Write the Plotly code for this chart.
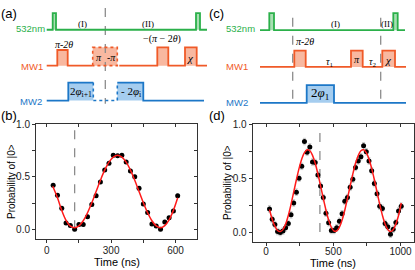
import plotly.graph_objects as go

W, H = 415, 270

# ---------------- data: panel (b) ----------------
b_time = [30, 50, 70, 90, 110, 130, 150, 170, 190, 210, 230, 250, 270, 290, 310,
          330, 350, 370, 390, 410, 430, 450, 470, 490, 510, 530, 550, 570, 590, 610]
b_prob = [0.42, 0.325, 0.20, 0.06, 0.035, 0.0, 0.045, 0.045, 0.12, 0.235, 0.32, 0.45, 0.565, 0.63, 0.705,
          0.70, 0.705, 0.64, 0.555, 0.50, 0.39, 0.24, 0.16, 0.05, 0.03, 0.0, 0.07, 0.11, 0.175, 0.32]
b_fit_time = [28, 50, 70, 90, 110, 130, 150, 170, 190, 210, 230, 250, 270, 290, 310,
              330, 350, 370, 390, 410, 430, 450, 470, 490, 510, 530, 550, 570, 590, 610]
b_fit_prob = [0.41, 0.30, 0.18, 0.085, 0.03, 0.015, 0.032, 0.081, 0.157, 0.253, 0.36, 0.467, 0.563, 0.639, 0.688,
              0.705, 0.688, 0.639, 0.563, 0.467, 0.36, 0.253, 0.157, 0.081, 0.032, 0.015, 0.035, 0.09, 0.18, 0.30]
b_marker_time = [130, 130]
b_marker_prob = [0.0, 1.0]

# ---------------- data: panel (d) ----------------
d_time = [25, 45, 65, 85, 105, 125, 145, 165, 185, 205, 225, 245, 265, 285, 305, 325, 345, 365, 385, 405,
          425, 445, 465, 485, 505, 525, 545, 565, 585, 605, 625, 645, 665, 685, 705, 725, 745, 765, 785, 805,
          825, 845, 865, 885, 905, 925, 945, 965, 985, 1005]
d_prob = [0.215, 0.118, 0.07, 0.005, -0.004, 0.01, 0.04, 0.08, 0.16, 0.27, 0.37, 0.50, 0.61, 0.84, 0.74,
          0.79, 0.65, 0.645, 0.53, 0.427, 0.32, 0.175, 0.087, 0.015, 0.015, 0.04, 0.10, 0.17, 0.285, 0.32,
          0.415, 0.49, 0.60, 0.66, 0.70, 0.80, 0.745, 0.66, 0.57, 0.45, 0.355, 0.24, 0.22, 0.08, 0.05,
          -0.02, 0.027, 0.088, 0.195, 0.24]
d_err = 0.03
d_fit_time = d_time
d_fit_prob = [0.21, 0.12, 0.055, 0.015, 0.005, 0.023, 0.074, 0.155, 0.257, 0.371, 0.486, 0.591, 0.678, 0.737,
              0.764, 0.755, 0.712, 0.638, 0.540, 0.429, 0.312, 0.204, 0.111, 0.045, 0.010, 0.012, 0.045, 0.111,
              0.203, 0.312, 0.428, 0.540, 0.638, 0.711, 0.755, 0.764, 0.738, 0.678, 0.591, 0.486, 0.371, 0.257,
              0.155, 0.075, 0.023, 0.005, 0.022, 0.074, 0.154, 0.27]
d_marker_time = [400, 400]
d_marker_prob = [0.0, 0.95]

# ticks
b_xticks = [0, 300, 600]
b_xminor = [150, 450]
d_xticks = [0, 500, 1000]
d_xminor = [250, 750]
p_ticks = [0, 0.5, 1.0]
p_labels = ["0.0", "0.5", "1.0"]
p_minor = [0.25, 0.75]

# ---------------- pulse sequences (schematic timeline units) ----------------
# panel (a)
a_span = (46.7, 207.0)
a_laser_base = 24.3
a_laser = [(52.7, 56.0, 7.3), (196.0, 200.0, 7.3)]
a_mw1_base = 61.0
a_mw1_pre = [(57.3, 67.7, 45.0)]
a_mw1_opt = (92.7, 117.3, 42.3)
a_mw1_post = [(157.3, 168.3, 42.3), (185.0, 196.7, 42.3)]
a_mw2_base = 96.7
a_mw2 = [(68.3, 93.3, 78.3), (117.3, 143.3, 78.3)]
a_cut = [105.3]
# panel (c)
c_span = (260.0, 406.0)
c_laser_base = 24.7
c_laser = [(269.3, 274.0, 7.3), (393.3, 397.7, 7.3)]
c_mw1_base = 62.3
c_mw1 = [(294.3, 305.7, 45.7), (351.0, 362.7, 45.7), (382.3, 395.0, 45.7)]
c_mw2_base = 99.0
c_mw2 = [(306.7, 334.0, 81.0)]
c_cut = [292.7, 380.7]

GREEN, GREEN_F = "#2bb04a", "#a8dfb2"
ORANGE, ORANGE_F = "#f05a28", "#f8b8a0"
BLUE, BLUE_F = "#1c77c7", "#a5cdef"
SANS = "Liberation Sans, Arial, sans-serif"
SERIF = "Liberation Serif, Times New Roman, serif"

fig = go.Figure()

SX, SY = "x5", "y5"


def fill_rect(x0, x1, yb, yt, color):
    fig.add_trace(go.Scatter(x=[x0, x0, x1, x1, x0], y=[yb, yt, yt, yb, yb], mode="lines",
                             fill="toself", fillcolor=color, line=dict(width=0),
                             xaxis=SX, yaxis=SY, hoverinfo="skip", showlegend=False))


def path(xs, ys, color, dash="solid", width=1.8):
    fig.add_trace(go.Scatter(x=xs, y=ys, mode="lines", line=dict(color=color, width=width, dash=dash),
                             xaxis=SX, yaxis=SY, hoverinfo="skip", showlegend=False))


def wave(x_start, x_end, base, pulses, color):
    xs, ys = [x_start], [base]
    for p0, p1, top in pulses:
        xs += [p0, p0, p1, p1]
        ys += [base, top, top, base]
    xs.append(x_end)
    ys.append(base)
    path(xs, ys, color)


# fills
for p0, p1, t in a_laser:
    fill_rect(p0, p1, a_laser_base, t, GREEN_F)
for p0, p1, t in a_mw1_pre + [a_mw1_opt] + a_mw1_post:
    fill_rect(p0, p1, a_mw1_base, t, ORANGE_F)
for p0, p1, t in a_mw2:
    fill_rect(p0, p1, a_mw2_base, t, BLUE_F)
for p0, p1, t in c_laser:
    fill_rect(p0, p1, c_laser_base, t, GREEN_F)
for p0, p1, t in c_mw1:
    fill_rect(p0, p1, c_mw1_base, t, ORANGE_F)
for p0, p1, t in c_mw2:
    fill_rect(p0, p1, c_mw2_base, t, BLUE_F)

# dashed cut lines in schematics
for xc in a_cut:
    path([xc, xc], [2, 100], "#8c8c8c", dash="dash", width=1.3)
for xc in c_cut:
    path([xc, xc], [12, 101], "#8c8c8c", dash="dash", width=1.3)

# (a) waveforms
wave(a_span[0], a_span[1], a_laser_base, a_laser, GREEN)
wave(a_span[0], a_mw1_opt[0], a_mw1_base, a_mw1_pre, ORANGE)
o0, o1, ot = a_mw1_opt
path([o0, o0, o1, o1, o0], [a_mw1_base, ot, ot, a_mw1_base, a_mw1_base], ORANGE, dash="dot", width=1.6)
wave(o1 + 2, a_span[1], a_mw1_base, a_mw1_post, ORANGE)
(m0, m1, mt), (n0, n1, nt) = a_mw2
path([a_span[0], m0, m0, m1], [a_mw2_base, a_mw2_base, mt, mt], BLUE)
path([m1, m1, n0, n0], [mt, a_mw2_base, a_mw2_base, nt], BLUE, dash="dot", width=1.6)
path([n0, n1, n1, a_span[1] - 3], [nt, nt, a_mw2_base, a_mw2_base], BLUE)

# (c) waveforms
wave(c_span[0], c_span[1] - 1, c_laser_base, c_laser, GREEN)
wave(c_span[0], c_span[1], c_mw1_base, c_mw1, ORANGE)
wave(c_span[0], c_span[1], c_mw2_base, c_mw2, BLUE)

# ---------------- data panels ----------------
fig.add_trace(go.Scatter(x=b_marker_time, y=b_marker_prob, mode="lines",
                         line=dict(color="#8c8c8c", width=1.3, dash="dash"), xaxis="x", yaxis="y",
                         showlegend=False))
fig.add_trace(go.Scatter(x=b_time, y=b_prob, mode="markers",
                         marker=dict(color="black", size=5),
                         error_y=dict(type="constant", value=0.015, color="#c8c8c8", thickness=1, width=1.5),
                         xaxis="x", yaxis="y", showlegend=False))
fig.add_trace(go.Scatter(x=b_fit_time, y=b_fit_prob, mode="lines", line=dict(color="#ff1a1a", width=1.5, shape="spline"),
                         xaxis="x", yaxis="y", showlegend=False))

fig.add_trace(go.Scatter(x=d_marker_time, y=d_marker_prob, mode="lines",
                         line=dict(color="#8c8c8c", width=1.3, dash="dash"), xaxis="x3", yaxis="y3",
                         showlegend=False))
fig.add_trace(go.Scatter(x=d_time, y=d_prob, mode="markers",
                         marker=dict(color="black", size=5),
                         error_y=dict(type="constant", value=d_err, color="#c8c8c8", thickness=1, width=1.5),
                         xaxis="x3", yaxis="y3", showlegend=False))
fig.add_trace(go.Scatter(x=d_fit_time, y=d_fit_prob, mode="lines", line=dict(color="#ff1a1a", width=1.5, shape="spline"),
                         xaxis="x3", yaxis="y3", showlegend=False))


def px(x):
    return x / W


def py(y):
    return 1 - y / H


AX = "#333333"
tickfont = dict(family=SANS, size=10, color="#222")
b_dom_x = [px(36), px(197)]
b_dom_y = [py(238), py(121)]
d_dom_x = [px(252.7), px(414)]
d_dom_y = [py(241.7), py(121)]
b_xr = [-50, 700]
d_xr = [-100, 1100]
b_yr = [-0.09, 1.0]
d_yr = [-0.095, 1.0]

common = dict(showgrid=False, zeroline=False, linecolor=AX, linewidth=1, tickcolor=AX, ticklen=3, tickwidth=1)


def minor(vals, side):
    return dict(tickvals=vals, ticks=side, ticklen=3, tickcolor=AX, tickwidth=1, showgrid=False)


fig.update_layout(
    width=W, height=H, margin=dict(l=0, r=0, t=0, b=0),
    paper_bgcolor="white", plot_bgcolor="rgba(0,0,0,0)", showlegend=False,
    xaxis=dict(domain=b_dom_x, range=b_xr, anchor="y", tickvals=b_xticks, ticktext=[str(v) for v in b_xticks],
               ticks="outside", showline=True, tickfont=tickfont, ticklabelstandoff=-1,
               minor=minor(b_xminor, "outside"), **common),
    yaxis=dict(domain=b_dom_y, range=b_yr, anchor="x", tickvals=p_ticks, ticktext=p_labels,
               ticks="outside", showline=True, tickfont=tickfont, minor=minor(p_minor, "outside"), **common),
    xaxis2=dict(overlaying="x", side="top", anchor="y", range=b_xr, tickvals=b_xticks, ticks="inside",
                showticklabels=False, showline=True, minor=minor(b_xminor, "inside"), **common),
    yaxis2=dict(overlaying="y", side="right", anchor="x", range=b_yr, tickvals=p_ticks, ticks="inside",
                showticklabels=False, showline=True, minor=minor(p_minor, "inside"), **common),
    xaxis3=dict(domain=d_dom_x, range=d_xr, anchor="y3", tickvals=d_xticks, ticktext=[str(v) for v in d_xticks],
                ticks="outside", showline=True, tickfont=tickfont, ticklabelstandoff=-3,
                minor=minor(d_xminor, "outside"), **common),
    yaxis3=dict(domain=d_dom_y, range=d_yr, anchor="x3", tickvals=p_ticks, ticktext=p_labels,
                ticks="outside", showline=True, tickfont=tickfont, minor=minor(p_minor, "outside"), **common),
    xaxis4=dict(overlaying="x3", side="top", anchor="y3", range=d_xr, tickvals=d_xticks, ticks="inside",
                showticklabels=False, showline=True, minor=minor(d_xminor, "inside"), **common),
    yaxis4=dict(overlaying="y3", side="right", anchor="x3", range=d_yr, tickvals=p_ticks, ticks="inside",
                showticklabels=False, showline=True, minor=minor(p_minor, "inside"), **common),
    xaxis5=dict(domain=[0, 1], range=[0, W], visible=False, fixedrange=True),
    yaxis5=dict(domain=[py(105), 1], range=[105, 0], visible=False, fixedrange=True),
)

# dummy traces so overlay axes render
fig.add_trace(go.Scatter(x=[None], y=[None], xaxis="x2", yaxis="y2", showlegend=False))
fig.add_trace(go.Scatter(x=[None], y=[None], xaxis="x4", yaxis="y4", showlegend=False))

ann = []


def txt(x, y, s, size=10, color="black", family=SANS, **kw):
    ann.append(dict(x=px(x), y=py(y), xref="paper", yref="paper", text=s, showarrow=False,
                    font=dict(size=size, color=color, family=family), xanchor=kw.get("xanchor", "center"),
                    yanchor="middle", textangle=kw.get("textangle", 0)))


# panel letters
txt(9, 8, "(a)", 13)
txt(216, 8, "(c)", 13)
txt(9, 112, "(b)", 13)
txt(217, 112, "(d)", 13)

# channel labels
txt(30, 23.5, "532nm", 9.5, GREEN)
txt(31.5, 61.5, "MW1", 9.5, ORANGE)
txt(31, 97.5, "MW2", 9.5, BLUE)
txt(240, 23.5, "532nm", 9.5, GREEN)
txt(236.7, 62, "MW1", 9.5, ORANGE)
txt(236.7, 98.5, "MW2", 9.5, BLUE)

# (a) sequence labels
txt(82.7, 18, "(I)", 9, family=SERIF)
txt(148, 18, "(II)", 9, family=SERIF)
txt(64, 39, "<i>π-2θ</i>", 10, family=SERIF)
txt(99, 53, "<i>π</i>", 10, family=SERIF)
txt(111.5, 53, "<i>-π</i>", 10, family=SERIF)
txt(162, 34, "−(<i>π</i> − 2<i>θ</i>)", 10, family=SERIF)
txt(190.8, 53, "<i>χ</i>", 11, family=SERIF)
txt(80.8, 87.5, "2<i>φ</i><sub>i+1</sub>", 11, family=SERIF)
txt(130.5, 87.5, "- 2<i>φ</i><sub>i</sub>", 11, family=SERIF)

# (c) sequence labels
txt(335, 18, "(I)", 9, family=SERIF)
txt(387, 18, "(II)", 9, family=SERIF)
txt(305, 36.5, "<i>π-2θ</i>", 10, family=SERIF)
txt(330, 58, "<i>τ</i><sub>1</sub>", 10, family=SERIF)
txt(356.8, 55, "<i>π</i>", 10, family=SERIF)
txt(373, 58, "<i>τ</i><sub>2</sub>", 10, family=SERIF)
txt(388.7, 55, "<i>χ</i>", 11, family=SERIF)
txt(320.3, 90, "2<i>φ</i><sub>1</sub>", 13, family=SERIF)

# axis titles
txt(116.5, 262, "Time (ns)", 11)
txt(333, 262.5, "Time (ns)", 11)
txt(11, 180, "Probability of |0>", 10, textangle=-90)
txt(228, 181, "Probability of |0>", 10, textangle=-90)

fig.update_layout(annotations=ann)
fig.write_html("out.html", config={"displayModeBar": False},
               post_script="document.body.style.margin='0';document.body.style.overflow='hidden';")
